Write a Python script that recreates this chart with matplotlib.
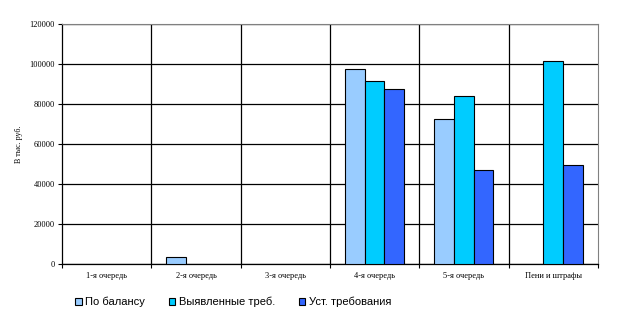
import numpy as np
import matplotlib.pyplot as plt

categories = ["1-я очередь", "2-я очередь", "3-я очередь", "4-я очередь", "5-я очередь", "Пени и штрафы"]
po_balansu = [0, 3300, 0, 97400, 72300, 0]
vyyavlennye = [0, 0, 0, 91300, 83800, 101300]
ust_treb = [0, 0, 0, 87300, 46800, 49300]
series = [
    (po_balansu, "#99CCFF", "По балансу"),
    (vyyavlennye, "#00CCFF", "Выявленные треб."),
    (ust_treb, "#3366FF", "Уст. требования"),
]

fig = plt.figure(figsize=(6.35, 3.21), dpi=100)
ax = fig.add_axes([0.0976, 0.1776, 0.8441, 0.7476])

x = np.arange(len(categories))
w = 0.22
for i, (vals, c, lab) in enumerate(series):
    v = np.array(vals, dtype=float)
    pos = x + (i - 1) * w
    mask = v > 0
    ax.bar(pos[mask], v[mask], width=w, color=c, edgecolor="black", lw=0.8,
           label=lab, zorder=3)

ax.set_xlim(-0.5, len(categories) - 0.5)
ax.set_ylim(0, 120000)
ax.set_yticks(np.arange(0, 120001, 20000))
ax.yaxis.set_major_formatter(plt.FuncFormatter(lambda v, p: f"{int(v)}"))
ax.grid(axis="y", color="black", lw=0.9, zorder=0)

# category boundaries: ticks + vertical lines; labels at centres
ax.set_xticks(np.arange(-0.5, len(categories)), minor=False)
ax.set_xticklabels([])
ax.set_xticks(x, minor=True)
ax.set_xticklabels(categories, minor=True, family="Liberation Serif", fontsize=6)
ax.tick_params(axis="x", which="minor", length=0, pad=6)
ax.tick_params(axis="x", which="major", length=3, width=0.8)
for b in np.arange(0.5, len(categories) - 0.5):
    ax.axvline(b, color="black", lw=0.9, zorder=0)

ax.tick_params(axis="y", length=3, width=0.8, pad=2)
for t in ax.get_yticklabels():
    t.set_family("Liberation Serif")
    t.set_fontsize(6)

ax.spines["top"].set_color("#808080")
ax.spines["right"].set_color("#808080")
for s in ("left", "bottom"):
    ax.spines[s].set_linewidth(0.9)

ax.set_ylabel("В тыс. руб.", family="Liberation Serif", fontsize=5.8, labelpad=5)

fig.legend(loc="center left", bbox_to_anchor=(0.103, 0.0592), ncol=3, frameon=False,
           prop={"family": "Liberation Sans", "size": 8}, handlelength=0.55,
           handleheight=0.55, handletextpad=0.3, columnspacing=2.2)

fig.savefig("out.png", dpi=100)
